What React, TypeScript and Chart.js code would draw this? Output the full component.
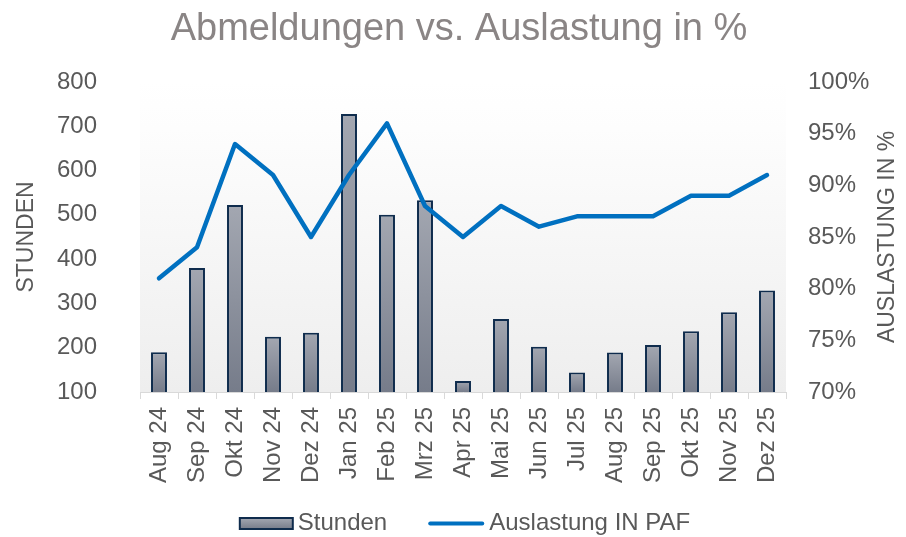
import React, { useEffect, useRef } from "react";
import { Chart, registerables } from "chart.js";

Chart.register(...registerables);

const categories: string[] = [
  "Aug 24", "Sep 24", "Okt 24", "Nov 24", "Dez 24", "Jan 25", "Feb 25", "Mrz 25",
  "Apr 25", "Mai 25", "Jun 25", "Jul 25", "Aug 25", "Sep 25", "Okt 25", "Nov 25", "Dez 25",
];
const stunden: number[] = [190, 380, 522, 225, 234, 728, 500, 533, 125, 265, 202, 144, 189, 206, 237, 280, 329];
const auslastung: number[] = [81, 84, 94, 91, 85, 91, 96, 88, 85, 88, 86, 87, 87, 87, 89, 89, 91];

const titleText = "Abmeldungen vs. Auslastung in %";
const leftTitle = "STUNDEN";
const rightTitle = "AUSLASTUNG IN %";
const barLabel = "Stunden";
const lineLabel = "Auslastung IN PAF";

const FONT = "'Liberation Sans', Arial, sans-serif";
const TEXT = "#595959";
const BAR_TOP = "#a3a7b1";
const BAR_BOTTOM = "#767c8a";
const BAR_BORDER = "#0f2c4d";
const LINE = "#0070c0";

const plotBg = {
  id: "plotBg",
  beforeDraw(chart: any) {
    const { ctx, chartArea } = chart;
    if (!chartArea) return;
    const g = ctx.createLinearGradient(0, chartArea.top, 0, chartArea.bottom);
    g.addColorStop(0, "#ffffff");
    g.addColorStop(0.15, "#fdfdfd");
    g.addColorStop(1, "#eeeeee");
    ctx.save();
    ctx.fillStyle = g;
    ctx.fillRect(chartArea.left, chartArea.top, chartArea.right - chartArea.left, chartArea.bottom - chartArea.top);
    ctx.restore();
  },
};

const extras = {
  id: "extras",
  afterDraw(chart: any) {
    const { ctx, chartArea } = chart;
    if (!chartArea) return;
    ctx.save();
    // right axis title, reading bottom to top
    ctx.font = `23px ${FONT}`;
    ctx.fillStyle = TEXT;
    ctx.textAlign = "center";
    ctx.textBaseline = "middle";
    ctx.translate(888, (chartArea.top + chartArea.bottom) / 2);
    ctx.rotate(-Math.PI / 2);
    ctx.fillText(rightTitle, 0, 0);
    ctx.restore();

    // legend
    ctx.save();
    ctx.font = `24px ${FONT}`;
    const boxW = 53;
    const boxH = 11;
    const lineW = 56;
    const gap = 5;
    const spacing = 41;
    const t1 = chart.data.datasets[0].label;
    const t2 = chart.data.datasets[1].label;
    const w1 = ctx.measureText(t1).width;
    const w2 = ctx.measureText(t2).width;
    const total = boxW + gap + w1 + spacing + lineW + gap + w2;
    const cx = (chartArea.left + chartArea.right) / 2 + 2;
    let x = cx - total / 2;
    const cy = 523.5;
    const g = ctx.createLinearGradient(0, cy - boxH / 2, 0, cy + boxH / 2);
    g.addColorStop(0, BAR_TOP);
    g.addColorStop(1, BAR_BOTTOM);
    ctx.fillStyle = g;
    ctx.fillRect(x, cy - boxH / 2, boxW, boxH);
    ctx.strokeStyle = BAR_BORDER;
    ctx.lineWidth = 2;
    ctx.strokeRect(x, cy - boxH / 2, boxW, boxH);
    x += boxW + gap;
    ctx.fillStyle = TEXT;
    ctx.textAlign = "left";
    ctx.textBaseline = "middle";
    ctx.fillText(t1, x, cy);
    x += w1 + spacing;
    ctx.strokeStyle = LINE;
    ctx.lineWidth = 4;
    ctx.lineCap = "round";
    ctx.beginPath();
    ctx.moveTo(x + 2, cy);
    ctx.lineTo(x + lineW - 2, cy);
    ctx.stroke();
    x += lineW + gap;
    ctx.fillText(t2, x, cy);
    ctx.restore();
  },
};

function barFill(c: any) {
  const chart = c.chart;
  const area = chart.chartArea;
  const y = chart.scales && chart.scales.y;
  if (!area || !y || c.type !== "data" || typeof c.raw !== "number") return "#8c919c";
  const top = y.getPixelForValue(c.raw);
  const bottom = area.bottom;
  if (!isFinite(top) || bottom - top < 1) return "#8c919c";
  const g = chart.ctx.createLinearGradient(0, top, 0, bottom);
  g.addColorStop(0, BAR_TOP);
  g.addColorStop(1, BAR_BOTTOM);
  return g;
}

export default function App() {
  const ref = useRef<HTMLCanvasElement | null>(null);
  useEffect(() => {
    document.body.style.margin = "0";
    const canvas = ref.current;
    if (!canvas) return;
    Chart.defaults.font.family = FONT;
    const chart = new Chart(canvas, {
      type: "bar",
      data: {
        labels: categories,
        datasets: [
          {
            type: "bar",
            label: barLabel,
            data: stunden,
            yAxisID: "y",
            backgroundColor: barFill as any,
            borderColor: BAR_BORDER,
            borderWidth: 2,
            categoryPercentage: 1,
            barPercentage: 0.42,
            order: 2,
          },
          {
            type: "line",
            label: lineLabel,
            data: auslastung,
            yAxisID: "y1",
            borderColor: LINE,
            backgroundColor: LINE,
            borderWidth: 4.5,
            pointRadius: 0,
            tension: 0,
            borderJoinStyle: "round",
            borderCapStyle: "round",
            order: 1,
          } as any,
        ],
      },
      options: {
        animation: false,
        responsive: true,
        maintainAspectRatio: false,
        layout: { padding: { left: 12, right: 0, top: 0, bottom: 45 } },
        plugins: {
          legend: { display: false },
          tooltip: { enabled: false },
          title: {
            display: true,
            text: titleText,
            color: "#8a8585",
            font: { size: 38, weight: "normal", family: FONT },
            padding: { top: 6.8, bottom: 29.6 },
          },
        },
        scales: {
          x: {
            offset: true,
            grid: {
              display: true,
              drawOnChartArea: false,
              drawTicks: true,
              tickLength: 7,
              color: "#d9d9d9",
              offset: true,
            },
            border: { display: true, color: "#d9d9d9", width: 1 },
            ticks: {
              color: TEXT,
              font: { size: 24, family: FONT },
              minRotation: 90,
              maxRotation: 90,
              autoSkip: false,
              padding: 8,
            },
            afterFit(scale: any) {
              scale.height = 100;
            },
          },
          y: {
            position: "left",
            min: 100,
            max: 800,
            grid: { display: false, drawTicks: false },
            border: { display: false },
            ticks: {
              stepSize: 100,
              color: TEXT,
              font: { size: 24, family: FONT },
              padding: 43,
            },
            title: {
              display: true,
              text: leftTitle,
              color: TEXT,
              font: { size: 23, family: FONT },
              padding: { top: 1, bottom: 0 },
            },
            afterFit(scale: any) {
              scale.width = 128;
            },
          },
          y1: {
            position: "right",
            min: 70,
            max: 100,
            grid: { display: false, drawTicks: false },
            border: { display: false },
            ticks: {
              stepSize: 5,
              color: TEXT,
              font: { size: 24, family: FONT },
              padding: 22,
              callback: (v: any) => `${v}%`,
            },
            afterFit(scale: any) {
              scale.width = 120;
            },
          },
        },
      },
      plugins: [plotBg, extras],
    });
    return () => chart.destroy();
  }, []);
  return (
    <div style={{ position: "relative", width: 906, height: 537 }}>
      <canvas ref={ref} />
    </div>
  );
}
